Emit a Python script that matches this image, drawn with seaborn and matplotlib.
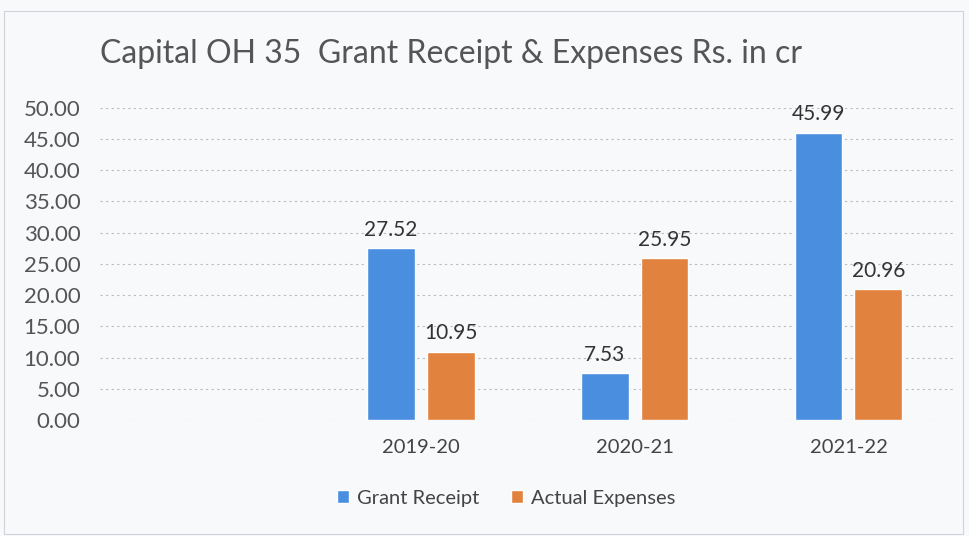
import pandas as pd
import matplotlib.pyplot as plt
import seaborn as sns

years = ['2019-20', '2020-21', '2021-22']
grant_receipt = [27.52, 7.53, 45.99]
actual_expenses = [10.95, 25.95, 20.96]
series_names = ['Grant Receipt', 'Actual Expenses']
y_ticks = [0, 5, 10, 15, 20, 25, 30, 35, 40, 45, 50]


def main():
    df = pd.DataFrame({
        'Year': years * 2,
        'Value': grant_receipt + actual_expenses,
        'Series': [series_names[0]] * 3 + [series_names[1]] * 3,
    })

    sns.set_style('white')
    plt.rcParams['font.family'] = ['Lato', 'DejaVu Sans']

    fig = plt.figure(figsize=(9.69, 5.36), dpi=100)
    fig.patch.set_facecolor('#f7f9fb')
    ax = fig.add_axes([0.103, 0.216, 0.883, 0.583])
    ax.set_facecolor('#f7f9fb')

    palette = {'Grant Receipt': '#4a8fdf', 'Actual Expenses': '#e2823f'}
    sns.barplot(data=df, x='Year', y='Value', hue='Series', palette=palette,
                width=0.56, gap=0.2, saturation=1, ax=ax, zorder=3)

    # value labels above each bar
    for cont in ax.containers:
        ax.bar_label(cont, fmt='%.2f', padding=6, fontsize=15, color='#333333')

    ax.set_xlim(-1.5, 2.5)
    ax.set_ylim(0, 50)
    ax.set_yticks(y_ticks)
    ax.set_yticklabels([f'{t:.2f}' for t in y_ticks], fontsize=16, color='#555555')
    ax.tick_params(axis='x', labelsize=14.5, colors='#444444', pad=10)
    ax.tick_params(axis='y', pad=14, length=0)
    ax.grid(axis='y', linestyle=(0, (2, 3)), color='#b8bcc2', linewidth=0.8, zorder=0)
    ax.set_xlabel('')
    ax.set_ylabel('')
    sns.despine(ax=ax, left=True, bottom=True)

    ax.legend(loc='upper center', bbox_to_anchor=(0.475, -0.165), ncol=2, frameon=False,
              fontsize=14.5, handlelength=0.6, handleheight=0.6, columnspacing=1.6,
              handletextpad=0.4, labelcolor='#444444')

    fig.text(0.103, 0.9, 'Capital OH 35  Grant Receipt & Expenses Rs. in cr',
             fontsize=23, color='#555555', va='center', ha='left')

    # thin frame around the chart area
    fig.add_artist(plt.Rectangle((0.004, 0.004), 0.99, 0.975, transform=fig.transFigure,
                                 fill=False, edgecolor='#d0d3d8', linewidth=0.8))

    fig.savefig('out.png', dpi=100, facecolor=fig.get_facecolor())
    plt.close(fig)


if __name__ == '__main__':
    main()
